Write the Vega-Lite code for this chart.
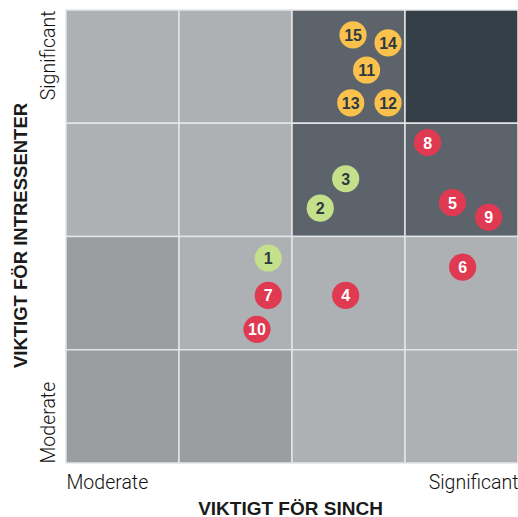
{
  "$schema": "https://vega.github.io/schema/vega-lite/v6.json",
  "width": 452,
  "height": 453,
  "autosize": "none",
  "padding": {"left": 66, "top": 10, "right": 0, "bottom": 54},
  "background": "white",
  "config": {"view": {"stroke": null}},
  "datasets": {
    "cells": [
      {"x": 0, "x2": 1, "y": 3, "y2": 4, "level": "light"},
      {"x": 1, "x2": 2, "y": 3, "y2": 4, "level": "light"},
      {"x": 2, "x2": 3, "y": 3, "y2": 4, "level": "dark"},
      {"x": 3, "x2": 4, "y": 3, "y2": 4, "level": "darkest"},
      {"x": 0, "x2": 1, "y": 2, "y2": 3, "level": "light"},
      {"x": 1, "x2": 2, "y": 2, "y2": 3, "level": "light"},
      {"x": 2, "x2": 3, "y": 2, "y2": 3, "level": "dark"},
      {"x": 3, "x2": 4, "y": 2, "y2": 3, "level": "dark"},
      {"x": 0, "x2": 1, "y": 1, "y2": 2, "level": "mid"},
      {"x": 1, "x2": 2, "y": 1, "y2": 2, "level": "light"},
      {"x": 2, "x2": 3, "y": 1, "y2": 2, "level": "light"},
      {"x": 3, "x2": 4, "y": 1, "y2": 2, "level": "light"},
      {"x": 0, "x2": 1, "y": 0, "y2": 1, "level": "mid"},
      {"x": 1, "x2": 2, "y": 0, "y2": 1, "level": "mid"},
      {"x": 2, "x2": 3, "y": 0, "y2": 1, "level": "light"},
      {"x": 3, "x2": 4, "y": 0, "y2": 1, "level": "light"}
    ],
    "points": [
      {"id": "1", "x": 1.79, "y": 1.81, "group": "green"},
      {"id": "2", "x": 2.25, "y": 2.25, "group": "green"},
      {"id": "3", "x": 2.475, "y": 2.51, "group": "green"},
      {"id": "4", "x": 2.475, "y": 1.48, "group": "red"},
      {"id": "5", "x": 3.42, "y": 2.3, "group": "red"},
      {"id": "6", "x": 3.51, "y": 1.73, "group": "red"},
      {"id": "7", "x": 1.79, "y": 1.48, "group": "red"},
      {"id": "8", "x": 3.2, "y": 2.83, "group": "red"},
      {"id": "9", "x": 3.74, "y": 2.17, "group": "red"},
      {"id": "10", "x": 1.69, "y": 1.18, "group": "red"},
      {"id": "11", "x": 2.66, "y": 3.47, "group": "yellow"},
      {"id": "12", "x": 2.85, "y": 3.18, "group": "yellow"},
      {"id": "13", "x": 2.52, "y": 3.18, "group": "yellow"},
      {"id": "14", "x": 2.85, "y": 3.71, "group": "yellow"},
      {"id": "15", "x": 2.54, "y": 3.78, "group": "yellow"}
    ]
  },
  "layer": [
    {
      "data": {"name": "cells"},
      "mark": {"type": "rect", "stroke": "#e4e5e6", "strokeWidth": 1.5},
      "encoding": {
        "x": {
          "field": "x", "type": "quantitative",
          "scale": {"domain": [0, 4], "nice": false},
          "axis": {
            "values": [0, 4],
            "labelExpr": "datum.value == 0 ? 'Moderate' : 'Significant'",
            "labelFlush": true,
            "labelFont": "Roboto", "labelFontWeight": 300, "labelFontSize": 19.5, "labelColor": "#111111",
            "labelPadding": 10, "ticks": false, "tickSize": 0, "domain": false, "grid": false,
            "title": "VIKTIGT FÖR SINCH",
            "titleFont": "Liberation Sans", "titleFontWeight": "bold", "titleFontSize": 19, "titleColor": "#1a1a1a",
            "titleX": 224, "titleY": 45, "titleBaseline": "middle", "titleAlign": "center"
          }
        },
        "x2": {"field": "x2"},
        "y": {
          "field": "y", "type": "quantitative",
          "scale": {"domain": [0, 4], "nice": false},
          "axis": {
            "values": [0, 4],
            "labelExpr": "datum.value == 0 ? 'Moderate' : 'Significant'",
            "labelAngle": -90,
            "labelAlign": {"condition": {"test": "datum.value == 0", "value": "left"}, "value": "right"},
            "labelBaseline": "bottom",
            "labelFont": "Roboto", "labelFontWeight": 300, "labelFontSize": 19.5, "labelColor": "#111111",
            "labelPadding": 8, "ticks": false, "tickSize": 0, "domain": false, "grid": false,
            "title": "VIKTIGT FÖR INTRESSENTER",
            "titleFont": "Liberation Sans", "titleFontWeight": "bold", "titleFontSize": 18.5, "titleColor": "#1a1a1a",
            "titleAngle": -90, "titleX": -46, "titleY": 225, "titleBaseline": "middle", "titleAlign": "center"
          }
        },
        "y2": {"field": "y2"},
        "fill": {
          "field": "level", "type": "nominal",
          "scale": {"domain": ["light", "mid", "dark", "darkest"], "range": ["#adb1b4", "#9a9ea1", "#5c636b", "#343f47"]},
          "legend": null
        }
      }
    },
    {
      "data": {"name": "points"},
      "mark": {"type": "circle", "size": 740, "opacity": 1},
      "encoding": {
        "x": {"field": "x", "type": "quantitative"},
        "y": {"field": "y", "type": "quantitative"},
        "color": {
          "field": "group", "type": "nominal",
          "scale": {"domain": ["yellow", "green", "red"], "range": ["#fbc14d", "#c5e08a", "#e03a52"]},
          "legend": null
        }
      }
    },
    {
      "data": {"name": "points"},
      "mark": {"type": "text", "font": "Liberation Sans", "fontWeight": "bold", "fontSize": 16, "baseline": "middle", "align": "center", "dy": 1},
      "encoding": {
        "x": {"field": "x", "type": "quantitative"},
        "y": {"field": "y", "type": "quantitative"},
        "text": {"field": "id"},
        "color": {"condition": {"test": "datum.group == 'red'", "value": "white"}, "value": "#2d3a42"}
      }
    }
  ]
}
